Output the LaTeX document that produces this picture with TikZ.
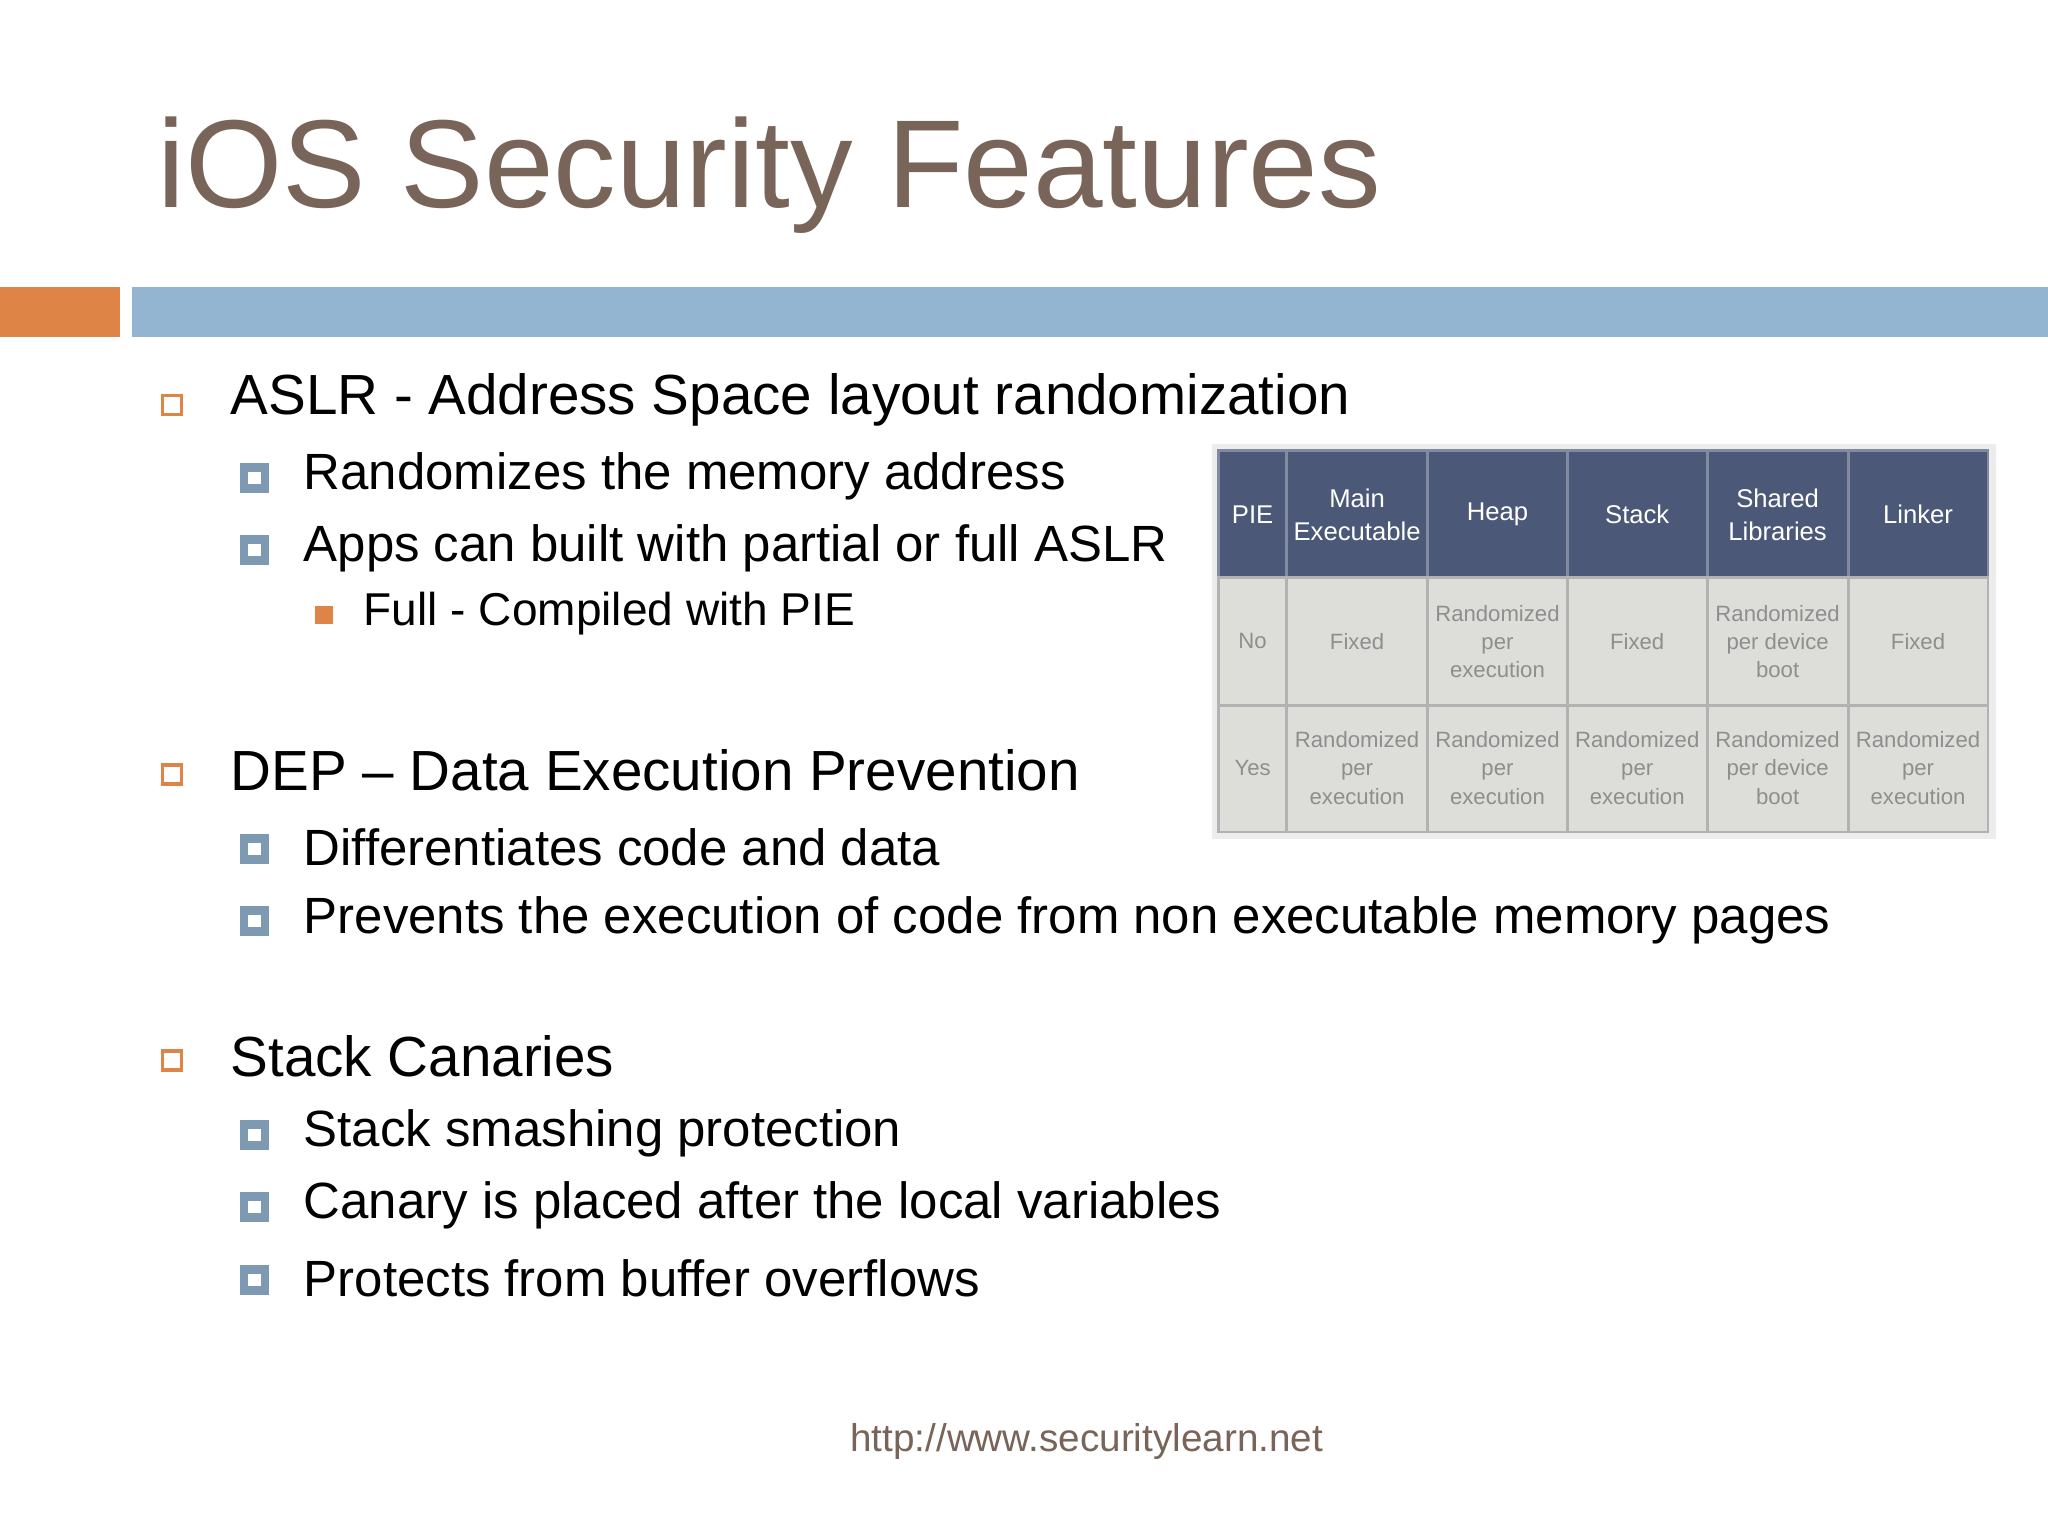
\documentclass[tikz,border=0pt]{standalone}
\usepackage{fontspec}
\setmainfont{Liberation Sans}
\definecolor{titlec}{HTML}{786459}
\definecolor{orng}{HTML}{DF8447}
\definecolor{blu}{HTML}{93B5D1}
\definecolor{hdr}{HTML}{4B5877}
\definecolor{cellc}{HTML}{DDDDDA}
\definecolor{celltx}{HTML}{8E8E8E}
\begin{document}
\begin{tikzpicture}[x=0.013061cm,y=-0.013061cm,
  lvone/.style={anchor=west,font=\fontsize{16.1}{18}\selectfont,inner sep=0pt},
  lvtwo/.style={anchor=west,font=\fontsize{14.5}{18}\selectfont,inner sep=0pt},
  lvthree/.style={anchor=west,font=\fontsize{13.1}{16}\selectfont,inner sep=0pt},
  bone/.style={draw=orng,line width=0.9pt,minimum size=0.19cm,inner sep=0pt},
  btwo/.style={draw=blu!85!black,fill=white,line width=2.4pt,minimum size=0.21cm,inner sep=0pt},
  bthree/.style={fill=orng,minimum size=0.18cm,inner sep=0pt},
  hcell/.style={fill=hdr,draw=hdr!70!white,line width=0.8pt},
  bcell/.style={fill=cellc,draw=gray!60,line width=0.8pt}]
\useasboundingbox[fill=white] (0,0) rectangle (1568,1176);
\node[anchor=west,text=titlec,font=\fontsize{35.6}{40}\selectfont,inner sep=0pt] (title) at (120,134) {iOS Security Features};
\fill[orng] (0,220) rectangle (92,258);
\fill[blu] (101,220) rectangle (1568,258);
% bullets
\node[bone] (b1) at (132,310) {};
\node[lvone] (t1) at (176,306) {ASLR - Address Space layout randomization};
\node[btwo] (b11) at (195,366) {};
\node[lvtwo] (t11) at (232,365) {Randomizes the memory address};
\node[btwo] (b12) at (195,421) {};
\node[lvtwo] (t12) at (232,420) {Apps can built with partial or full ASLR};
\node[bthree] (b121) at (248,471) {};
\node[lvthree] (t121) at (278,470) {Full - Compiled with PIE};
\node[bone] (b2) at (132,593) {};
\node[lvone] (t2) at (176,590) {DEP -- Data Execution Prevention};
\node[btwo] (b21) at (195,650) {};
\node[lvtwo] (t21) at (232,649) {Differentiates code and data};
\node[btwo] (b22) at (195,705) {};
\node[lvtwo] (t22) at (232,705) {Prevents the execution of code from non executable memory pages};
\node[bone] (b3) at (132,812) {};
\node[lvone] (t3) at (176,809) {Stack Canaries};
\node[btwo] (b31) at (195,869) {};
\node[lvtwo] (t31) at (232,868) {Stack smashing protection};
\node[btwo] (b32) at (195,924) {};
\node[lvtwo] (t32) at (232,923) {Canary is placed after the local variables};
\node[btwo] (b33) at (195,980) {};
\node[lvtwo] (t33) at (232,979) {Protects from buffer overflows};
% table
\fill[gray!15] (928,340) rectangle (1528,642);
\foreach \xa/\xb/\h/\n/\y [count=\i] in {
 933/985/PIE/No/Yes,
 985/1093/Main\\Executable/Fixed/Randomized\\per\\execution,
 1093/1200/Heap/Randomized\\per\\execution/Randomized\\per\\execution,
 1200/1307/Stack/Fixed/Randomized\\per\\execution,
 1307/1415/Shared\\Libraries/Randomized\\per device\\boot/Randomized\\per device\\boot,
 1415/1522/Linker/Fixed/Randomized\\per\\execution}{
  \path[hcell] (\xa,345) rectangle (\xb,442);
  \node[text=white,font=\fontsize{7.3}{9.5}\selectfont,align=center] (h\i) at ({(\xa+\xb)/2},394) {\h};
  \path[bcell] (\xa,442) rectangle (\xb,540);
  \node[text=celltx,font=\fontsize{6.3}{8}\selectfont,align=center] (n\i) at ({(\xa+\xb)/2},491) {\n};
  \path[bcell] (\xa,540) rectangle (\xb,637);
  \node[text=celltx,font=\fontsize{6.3}{8}\selectfont,align=center] (y\i) at ({(\xa+\xb)/2},588) {\y};
}
\node[text=titlec,font=\fontsize{11}{13}\selectfont,inner sep=0pt] (foot) at (832,1104) {http://www.securitylearn.net};
\end{tikzpicture}
\end{document}
